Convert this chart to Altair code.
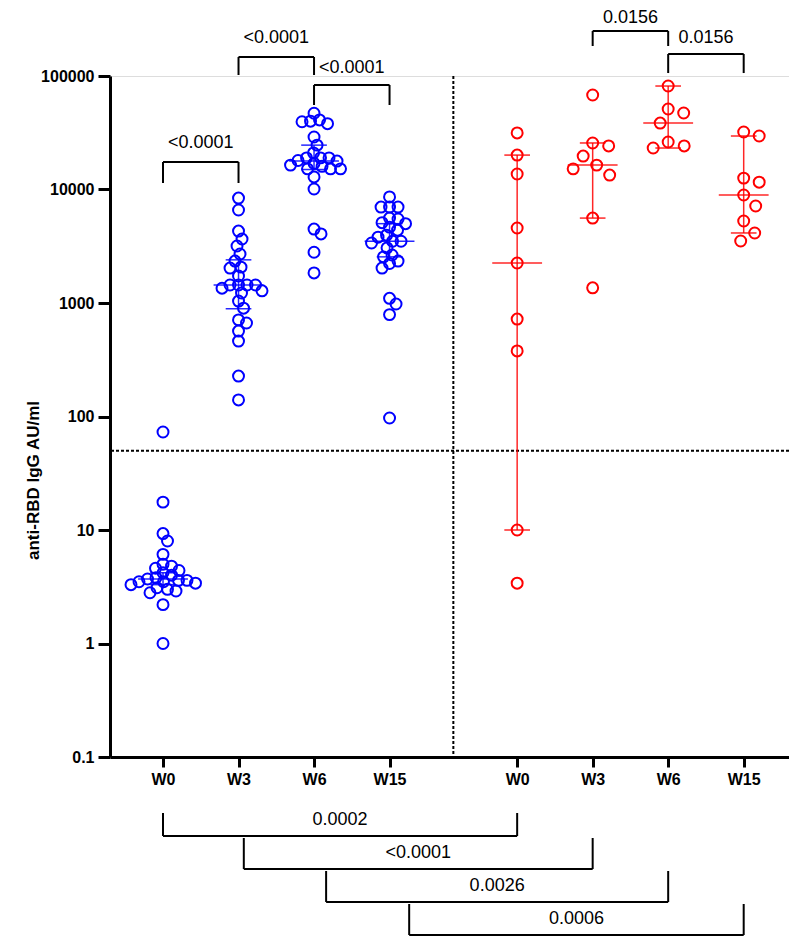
import math
import altair as alt
import pandas as pd

# ---------------- data ----------------
groups = ["W0", "W3", "W6", "W15"]

blue_w0 = [73, 17.6, 9.3, 8.0, 6.1, 5.0, 4.8, 4.6, 4.4, 4.2, 4.0, 3.8, 3.7, 3.6, 3.6,
           3.5, 3.5, 3.4, 3.3, 3.1, 3.0, 2.9, 2.8, 2.2, 1.0]
blue_w3 = [8400, 6600, 4300, 3660, 3180, 2700, 2340, 2070, 2030, 1730, 1440, 1440, 1440,
           1440, 1350, 1280, 1225, 1040, 900, 710, 667, 566, 462, 227, 140]
blue_w6 = [47000, 41000, 40000, 39500, 38000, 29000, 24600, 21000, 19000, 19000, 19000,
           18000, 17800, 17000, 16400, 16000, 15200, 15200, 15200, 12900, 10100, 4480,
           4060, 2800, 1840]
blue_w15 = [8600, 7000, 7000, 7000, 5600, 5500, 5100, 5000, 4660, 4380, 3960, 3800, 3500,
            3500, 3380, 3060, 2650, 2550, 2340, 2230, 2030, 1100, 980, 790, 97]

red_w0 = [31500, 20100, 13700, 4580, 2250, 722, 378, 10, 3.4]
red_w3 = [68000, 25700, 24200, 19700, 16400, 15200, 13400, 5600, 1360]
red_w6 = [81600, 51200, 47200, 38500, 26200, 24200, 23200]
red_w15 = [32100, 29600, 12600, 11600, 8950, 7160, 5280, 4140, 3520]

# median with 95% CI
blue_med = [3.7, 1440, 17800, 3500]
blue_lo = [3.3, 890, 15000, 2550]
blue_hi = [4.2, 2400, 24600, 5000]
red_med = [2250, 16400, 38500, 8950]
red_lo = [10, 5600, 23200, 4140]
red_hi = [20100, 25700, 81600, 29600]

threshold = 50

# top brackets: left group, right group, leg level, line level, label level, text
top_left = ["b0", "b1", "b2", "r1", "r2"]
top_right = ["b1", "b2", "b3", "r2", "r3"]
top_leg = [11410, 102000, 55500, 183800, 106200]
top_line = [17470, 147000, 83300, 249000, 156300]
top_lab = [25690, 216200, 117600, 325000, 216200]
top_text = ["<0.0001", "<0.0001", "<0.0001", "0.0156", "0.0156"]

# bottom brackets (blue vs red at same week)
bot_left_shift = [0.0, 0.07, 0.16, 0.26]
bot_leg = [0.03211, 0.01933, 0.00990, 0.00507]
bot_line = [0.02014, 0.01031, 0.00528, 0.002702]
bot_lab = [0.02786, 0.01426, 0.00730, 0.003739]
bot_text = ["0.0002", "<0.0001", "0.0026", "0.0006"]

# ---------------- layout helpers ----------------
RED_SHIFT = 4.69
XMIN, XMAX = -0.702, 8.29
W, H = 679, 681
DEC_PX = H / 6.0
X_PX = W / (XMAX - XMIN)

pos = {}
for i in range(4):
    pos["b%d" % i] = float(i)
    pos["r%d" % i] = i + RED_SHIFT


def swarm(vals, d):
    placed, offs = [], []
    cands = [0.0]
    for k in range(1, 160):
        cands += [k * 0.5, -k * 0.5]
    for v in vals:
        y = math.log10(v) * DEC_PX
        chosen = 0.0
        for c in cands:
            if all((c - px) ** 2 + (y - py) ** 2 >= d * d for px, py in placed):
                chosen = c
                break
        placed.append((chosen, y))
        offs.append(chosen / X_PX)
    return offs


series = {"blue": [blue_w0, blue_w3, blue_w6, blue_w15],
          "red": [red_w0, red_w3, red_w6, red_w15]}
spread = {"blue": 8.5, "red": 16.0}
rows = []
for s, lists in series.items():
    for i, vals in enumerate(lists):
        key = ("b" if s == "blue" else "r") + str(i)
        svals = sorted(vals, reverse=True)
        for v, o in zip(svals, swarm(svals, spread[s])):
            rows.append({"series": s, "x": pos[key] + o, "v": v})
pts = pd.DataFrame(rows)

eb = []
for s, med, lo, hi in [("blue", blue_med, blue_lo, blue_hi), ("red", red_med, red_lo, red_hi)]:
    for i in range(4):
        key = ("b" if s == "blue" else "r") + str(i)
        p = pos[key]
        eb.append({"series": s, "x1": p, "x2": p, "y": lo[i], "y2": hi[i]})
        eb.append({"series": s, "x1": p - 0.33, "x2": p + 0.33, "y": med[i], "y2": med[i]})
        eb.append({"series": s, "x1": p - 0.17, "x2": p + 0.17, "y": lo[i], "y2": lo[i]})
        eb.append({"series": s, "x1": p - 0.17, "x2": p + 0.17, "y": hi[i], "y2": hi[i]})
ebdf = pd.DataFrame(eb)

segs, labs = [], []
for l, r, lg, ln, lb, t in zip(top_left, top_right, top_leg, top_line, top_lab, top_text):
    a, b = pos[l], pos[r]
    segs += [{"x1": a, "x2": b, "y": ln, "y2": ln},
             {"x1": a, "x2": a, "y": lg, "y2": ln},
             {"x1": b, "x2": b, "y": lg, "y2": ln}]
    labs.append({"x": (a + b) / 2, "y": lb, "t": t})
for i in range(4):
    a = pos["b%d" % i] + bot_left_shift[i]
    b = pos["r%d" % i]
    segs += [{"x1": a, "x2": b, "y": bot_line[i], "y2": bot_line[i]},
             {"x1": a, "x2": a, "y": bot_leg[i], "y2": bot_line[i]},
             {"x1": b, "x2": b, "y": bot_leg[i], "y2": bot_line[i]}]
    labs.append({"x": (a + b) / 2, "y": bot_lab[i], "t": bot_text[i]})
segdf = pd.DataFrame(segs)
labdf = pd.DataFrame(labs)

# ---------------- encodings ----------------
FONT = "Liberation Sans"
xticks = [pos["b%d" % i] for i in range(4)] + [pos["r%d" % i] for i in range(4)]
xlabels = groups + groups
expr = "''"
for t, lab in reversed(list(zip(xticks, xlabels))):
    expr = "datum.value < %s ? '%s' : %s" % (t + 0.3, lab, expr)

xscale = alt.Scale(domain=[XMIN, XMAX], nice=False, zero=False)
yscale = alt.Scale(type="log", domain=[0.1, 100000], nice=False)
xaxis = alt.Axis(values=xticks, labelExpr=expr, title=None, grid=False,
                 tickSize=10, tickWidth=3, domainWidth=3, domainColor="black",
                 tickColor="black", labelColor="black", labelFont=FONT,
                 labelFontSize=16, labelFontWeight="bold", labelPadding=4)
yaxis = alt.Axis(values=[0.1, 1, 10, 100, 1000, 10000, 100000], format="~g",
                 title="anti-RBD IgG AU/ml", grid=False, tickSize=12, tickWidth=3,
                 domainWidth=3, domainColor="black", tickColor="black",
                 labelColor="black", labelFont=FONT, labelFontSize=16,
                 labelFontWeight="bold", labelPadding=4, titleFont=FONT,
                 titleFontSize=17, titleFontWeight="bold", titleColor="black",
                 titleX=-77, titleY=404, titleAngle=270, titleAlign="center",
                 titleBaseline="middle")


def X(f):
    return alt.X(f, type="quantitative", scale=xscale, axis=xaxis)


def Y(f):
    return alt.Y(f, type="quantitative", scale=yscale, axis=yaxis)


color = alt.Color("series:N", scale=alt.Scale(domain=["blue", "red"],
                                              range=["#0000ff", "#ff0000"]), legend=None)

points = alt.Chart(pts).mark_point(shape="circle", filled=False, size=120,
                                   strokeWidth=2, opacity=1).encode(
    x=X("x"), y=Y("v"), color=color)

bars = alt.Chart(ebdf).mark_rule(strokeWidth=1.5, opacity=0.85).encode(
    x=X("x1"), x2="x2", y=Y("y"), y2="y2", color=color)

hline = alt.Chart(pd.DataFrame({"v": [threshold]})).mark_rule(
    color="black", strokeWidth=2, strokeDash=[3, 2]).encode(y=Y("v"))

vline = alt.Chart(pd.DataFrame({"x": [(pos["b3"] + pos["r0"]) / 2]})).mark_rule(
    color="black", strokeWidth=2, strokeDash=[3, 2]).encode(x=X("x"))

brackets = alt.Chart(segdf).mark_rule(color="black", strokeWidth=2).encode(
    x=X("x1"), x2="x2", y=Y("y"), y2="y2")

btext = alt.Chart(labdf).mark_text(font=FONT, fontSize=18, color="black",
                                   baseline="middle", align="center").encode(
    x=X("x"), y=Y("y"), text="t:N")

chart = alt.layer(hline, vline, bars, points, brackets, btext).properties(
    width=W, height=H,
    autosize=alt.AutoSizeParams(type="none"),
    padding={"left": 102, "top": 68, "right": 0, "bottom": 181},
).configure_view(stroke=None).configure(background="white")

chart.save("out.html", embed_options={"renderer": "svg", "actions": False})
